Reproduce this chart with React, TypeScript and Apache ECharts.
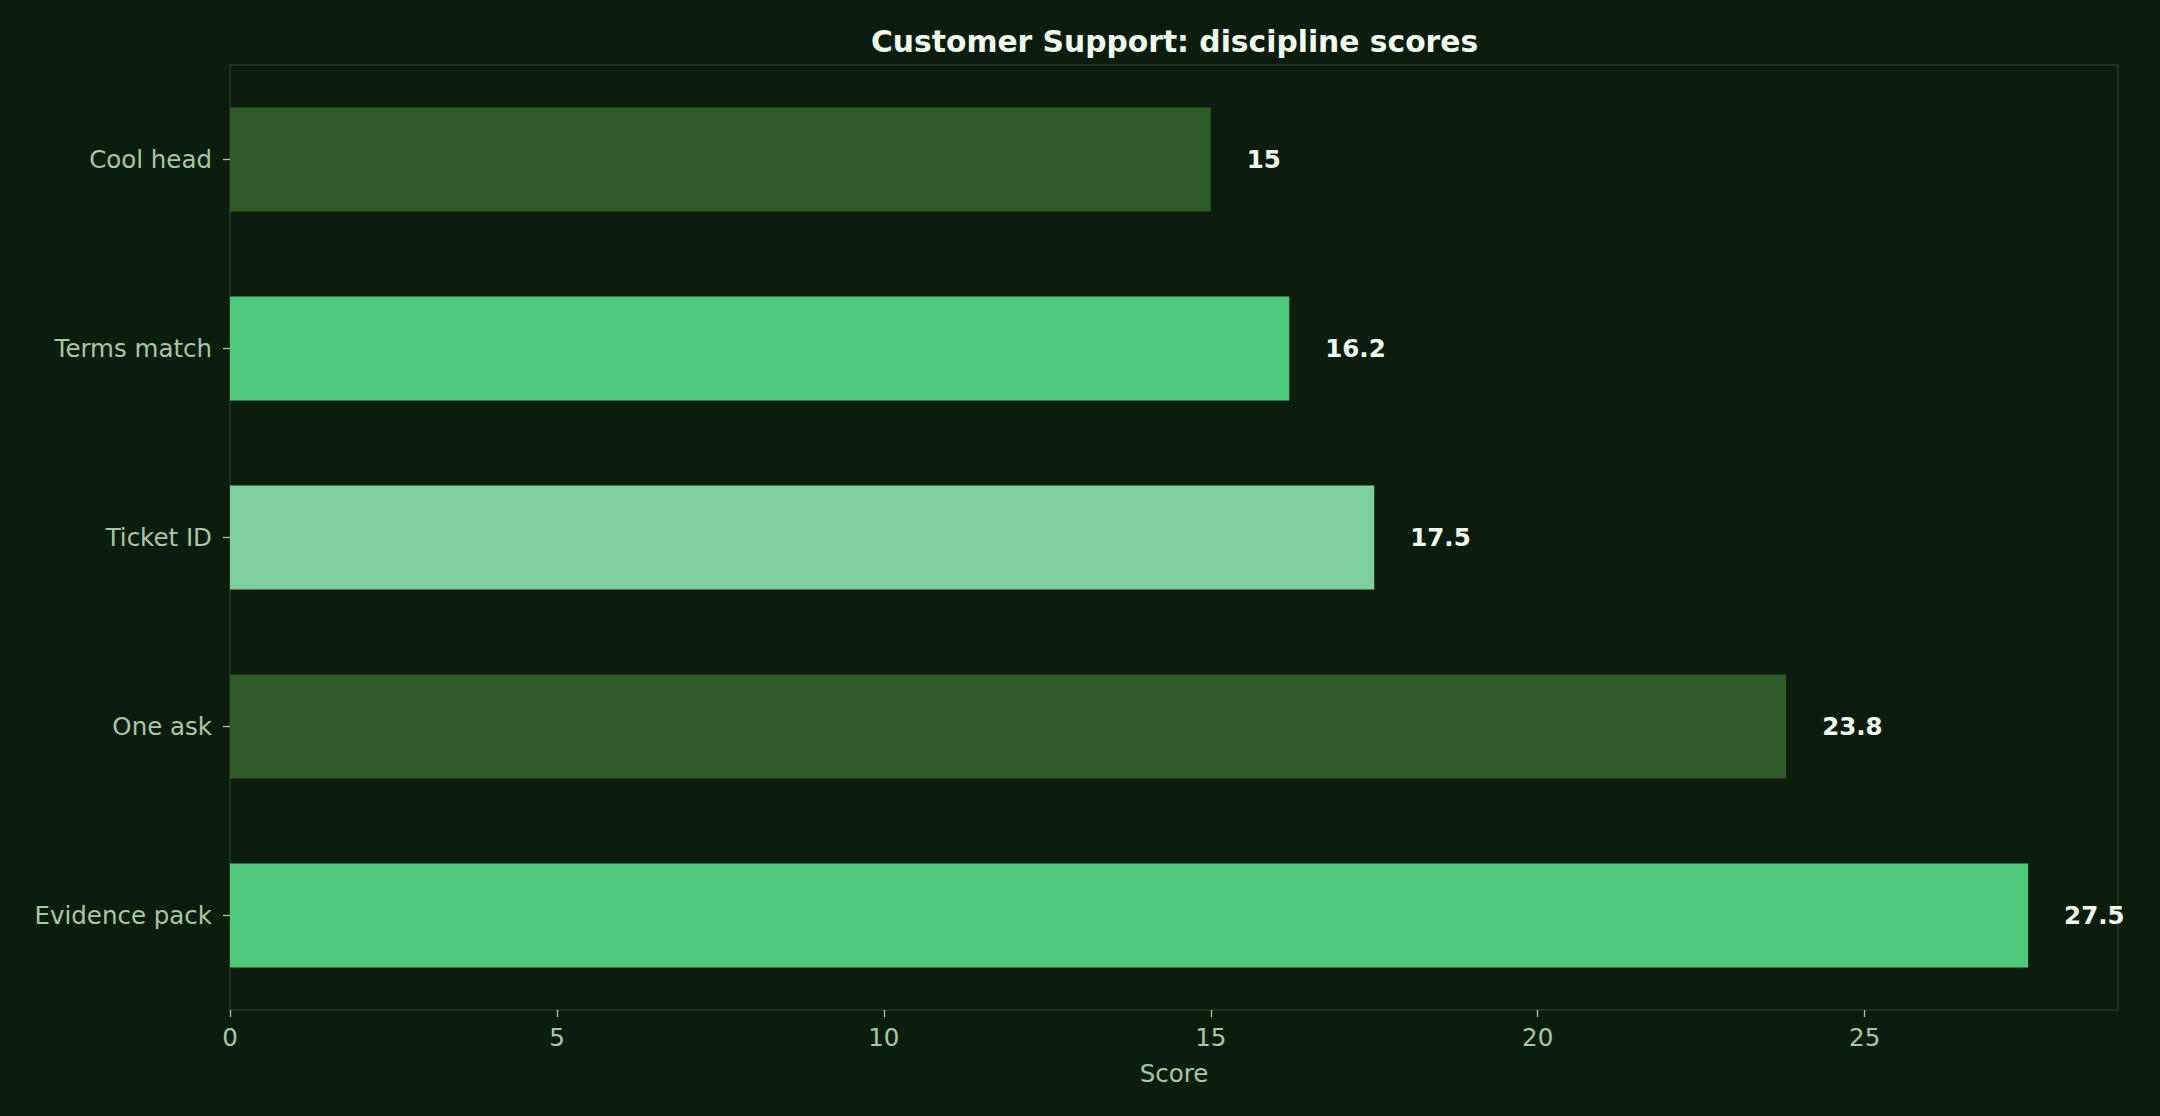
import React, { useEffect, useRef } from "react";
import * as echarts from "echarts";

const categories = ["Cool head", "Terms match", "Ticket ID", "One ask", "Evidence pack"];
const scores = [15, 16.2, 17.5, 23.8, 27.5];
const barColors = ["#2e5b28", "#4ec97b", "#7fcfa0", "#2e5b28", "#4ec97b"];
const xTicks = [0, 5, 10, 15, 20, 25];

const BG = "#0c1d0e";
const FRAME = "#213f22";
const TICK = "#a9c6a5";
const FONT = "DejaVu Sans";

export default function App() {
  const ref = useRef<HTMLDivElement>(null);
  useEffect(() => {
    if (!ref.current) return;
    const chart = echarts.init(ref.current, undefined, { renderer: "svg" });
    chart.setOption({
      animation: false,
      backgroundColor: BG,
      title: {
        text: "Customer Support: discipline scores",
        left: 866,
        top: 21,
        textStyle: { color: "#f0fbee", fontSize: 29.75, fontWeight: "bold", fontFamily: FONT },
      },
      grid: {
        left: 230,
        right: 42,
        top: 65,
        bottom: 106,
        show: true,
        borderColor: FRAME,
        borderWidth: 1.5,
        backgroundColor: BG,
      },
      xAxis: {
        type: "value",
        min: xTicks[0],
        max: 28.875,
        interval: 5,
        splitLine: { show: false },
        axisLine: { show: false },
        axisTick: { show: true, length: 7, lineStyle: { color: TICK, width: 1.3 } },
        axisLabel: {
          color: TICK,
          fontSize: 24.5,
          fontFamily: FONT,
          margin: 15,
          showMaxLabel: false,
          formatter: (v: number) => (xTicks.includes(v) ? String(v) : ""),
        },
        name: "Score",
        nameLocation: "middle",
        nameGap: 51,
        nameTextStyle: { color: TICK, fontSize: 24.5, fontFamily: FONT },
      },
      yAxis: {
        type: "category",
        inverse: true,
        data: categories,
        axisLine: { show: false },
        axisTick: { show: true, alignWithLabel: true, length: 7, lineStyle: { color: TICK, width: 1.3 } },
        axisLabel: { color: TICK, fontSize: 24.5, fontFamily: FONT, margin: 18 },
        splitLine: { show: false },
      },
      series: [
        {
          type: "bar",
          barWidth: "55%",
          data: scores.map((v, i) => ({ value: v, itemStyle: { color: barColors[i] } })),
          label: {
            show: true,
            position: "right",
            distance: 36,
            color: "#f0fbee",
            fontSize: 24.5,
            fontWeight: "bold",
            fontFamily: FONT,
          },
        },
      ],
    });
    return () => chart.dispose();
  }, []);
  return (
    <div
      ref={ref}
      style={{ position: "absolute", left: 0, top: 0, width: 2160, height: 1116 }}
    />
  );
}
